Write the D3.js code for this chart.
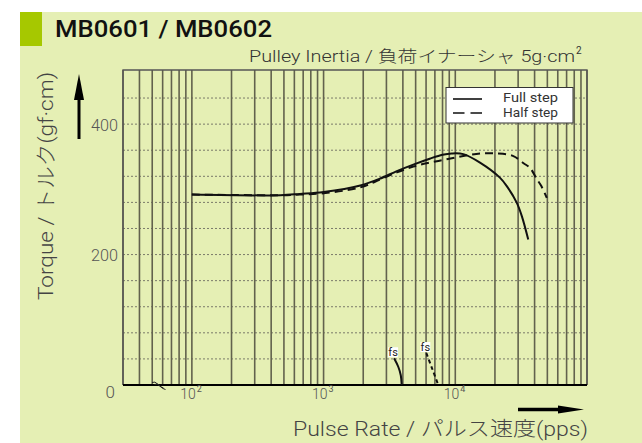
<!DOCTYPE html>
<html><head><meta charset="utf-8">
<script src="https://cdn.jsdelivr.net/npm/d3@7"></script>
<style>body{margin:0;background:#fff} svg{display:block}</style>
</head><body>
<svg id="c" width="642" height="443"></svg>
<script>
// ---- data ----
const fullPps    = [100, 470, 660, 1000, 1900, 2650, 3600, 4800, 6400, 8000, 9400, 11500, 15400, 21800, 24600, 29200, 32000, 35800];
const fullTorque = [292, 291, 293, 296, 306, 316, 328, 338, 347, 353, 355, 354, 341, 318, 305, 280, 259, 223];
const halfPps    = [100, 470, 660, 1000, 1900, 2680, 3600, 4800, 6400, 8600, 11500, 15400, 20600, 27600, 33000, 36900, 41500, 45000, 49500];
const halfTorque = [292, 291, 292, 294, 303, 315, 326, 335, 341, 346, 351, 355, 355, 351, 340, 333, 316, 305, 287];
const fsFullPps    = [3430, 3690, 3855, 3920];
const fsFullTorque = [41, 28, 15, 0];
const fsHalfPps    = [6030, 6650, 7430];
const fsHalfTorque = [49, 26, 0];
const yTickValues = [0, 200, 400];
const yGridValues = [40, 80, 120, 160, 200, 240, 280, 320, 360, 400, 440];
const xTickExponents = [2, 3, 4];
const legendLabels = ["Full step", "Half step"];
const titleText = "MB0601 / MB0602";
const subtitleText = "Pulley Inertia / 負荷イナーシャ 5g·cm";
const yLabelText = "Torque / トルク(gf·cm)";
const xLabelText = "Pulse Rate / パルス速度(pps)";

// ---- layout ----
const svg = d3.select("#c");
const L = 123, R = 587, T = 70, B = 385;
const x = d3.scaleLog().domain([30, 100000]).range([L, R]);
const y = d3.scaleLinear().domain([0, 483]).range([B, T]);
const FONT = "Roboto, 'Noto Sans CJK JP', sans-serif";

svg.append("rect").attr("x", 20).attr("y", 12).attr("width", 622).attr("height", 431).attr("fill", "#e5efb4");
svg.append("rect").attr("x", 20).attr("y", 12).attr("width", 22).attr("height", 34).attr("fill", "#a6c800");

svg.append("text").attr("x", 55).attr("y", 37).attr("font-family", FONT).attr("font-weight", 500)
  .attr("font-size", 24).attr("fill", "#111").attr("textLength", 217).attr("lengthAdjust", "spacingAndGlyphs").text(titleText);
svg.append("text").attr("x", 249).attr("y", 62).attr("font-family", FONT).attr("font-size", 16).attr("font-weight", 300)
  .attr("fill", "#333").attr("textLength", 326).attr("lengthAdjust", "spacingAndGlyphs").text(subtitleText);
svg.append("text").attr("x", 576).attr("y", 54).attr("font-family", FONT).attr("font-size", 10)
  .attr("fill", "#333").text("2");

// grid
const g = svg.append("g");
g.selectAll("line.h").data(yGridValues).enter().append("line")
  .attr("x1", L).attr("x2", R).attr("y1", d => y(d)).attr("y2", d => y(d))
  .attr("stroke", "#7a7a6a").attr("stroke-width", 1).attr("stroke-dasharray", "2,2");
g.selectAll("line.v").data(x.ticks()).enter().append("line")
  .attr("x1", d => x(d)).attr("x2", d => x(d)).attr("y1", T).attr("y2", B)
  .attr("stroke", "#62624d").attr("stroke-width", 1.6);

// frame
svg.append("path").attr("d", `M${L},${B}V${T}H${R}V${B}`).attr("fill", "none").attr("stroke", "#555").attr("stroke-width", 1.3);
svg.append("line").attr("x1", L).attr("x2", R).attr("y1", B).attr("y2", B).attr("stroke", "#000").attr("stroke-width", 2);

// break symbol
svg.append("path").attr("d", "M152,382.5 q3,-1.5 5.5,1.5 t6,4 M154.5,384.5 q3,-1.5 5.5,1.5 t5.5,3.5").attr("fill", "none")
  .attr("stroke", "#222").attr("stroke-width", 1);

// curves
const line = d3.line().x(d => x(d[0])).y(d => y(d[1])).curve(d3.curveCatmullRom.alpha(0.5));
const fullData = d3.zip(fullPps, fullTorque);
const halfData = d3.zip(halfPps, halfTorque);
svg.append("path").attr("d", line(halfData)).attr("fill", "none").attr("stroke", "#111").attr("stroke-width", 2).attr("stroke-dasharray", "8,5");
svg.append("path").attr("d", line(fullData)).attr("fill", "none").attr("stroke", "#111").attr("stroke-width", 2);
svg.append("path").attr("d", line(d3.zip(fsFullPps, fsFullTorque))).attr("fill", "none").attr("stroke", "#111").attr("stroke-width", 2);
svg.append("path").attr("d", line(d3.zip(fsHalfPps, fsHalfTorque))).attr("fill", "none").attr("stroke", "#111").attr("stroke-width", 2).attr("stroke-dasharray", "4,3");

// fs labels
[[fsFullPps[0], fsFullTorque[0]], [fsHalfPps[0], fsHalfTorque[0]]].forEach(p => {
  const cx = x(p[0]) - 1, cy = y(p[1]) - 6;
  svg.append("rect").attr("x", cx - 5).attr("y", cy - 5).attr("width", 10).attr("height", 10).attr("fill", "#fff");
  svg.append("text").attr("x", cx).attr("y", cy + 3.5).attr("text-anchor", "middle").attr("font-family", FONT)
    .attr("font-size", 11).attr("fill", "#222").text("fs");
});

// y ticks
svg.selectAll("text.yt").data(yTickValues).enter().append("text")
  .attr("x", d => d === 0 ? 115 : 118).attr("y", d => d === 0 ? 398 : y(d) + 6.5)
  .attr("text-anchor", "end").attr("font-family", FONT).attr("font-size", 17).attr("font-weight", 300).attr("fill", "#555")
  .attr("textLength", d => d === 0 ? null : 27).attr("lengthAdjust", "spacingAndGlyphs")
  .text(d => d);

// x ticks
xTickExponents.forEach(e => {
  const px = x(Math.pow(10, e));
  svg.append("text").attr("x", px + 4).attr("y", 399).attr("text-anchor", "end").attr("font-family", FONT)
    .attr("font-size", 14).attr("font-weight", 300).attr("fill", "#555").text("10");
  svg.append("text").attr("x", px + 5).attr("y", 392).attr("font-family", FONT)
    .attr("font-size", 9).attr("fill", "#555").text(e);
});

// axis labels
svg.append("text").attr("transform", "translate(53,300) rotate(-90)").attr("font-family", FONT).attr("font-size", 21).attr("font-weight", 300)
  .attr("fill", "#444").attr("textLength", 228).attr("lengthAdjust", "spacingAndGlyphs").text(yLabelText);
svg.append("text").attr("x", 293).attr("y", 436).attr("font-family", FONT).attr("font-size", 20).attr("font-weight", 300)
  .attr("fill", "#444").attr("textLength", 295).attr("lengthAdjust", "spacingAndGlyphs").text(xLabelText);

// arrows
svg.append("line").attr("x1", 79).attr("x2", 79).attr("y1", 139).attr("y2", 98).attr("stroke", "#000").attr("stroke-width", 3);
svg.append("path").attr("d", "M79,74 L84,100 L74,100 Z").attr("fill", "#000");
svg.append("line").attr("x1", 518).attr("x2", 560).attr("y1", 409.5).attr("y2", 409.5).attr("stroke", "#000").attr("stroke-width", 3.3);
svg.append("path").attr("d", "M584,409.5 L558,405.5 L558,413.5 Z").attr("fill", "#000");

// legend
const lg = svg.append("g");
lg.append("rect").attr("x", 446).attr("y", 87.5).attr("width", 127).attr("height", 35.5).attr("fill", "#fff").attr("stroke", "#333").attr("stroke-width", 1);
lg.append("line").attr("x1", 453).attr("x2", 482).attr("y1", 99).attr("y2", 99).attr("stroke", "#111").attr("stroke-width", 1.6);
lg.append("line").attr("x1", 453).attr("x2", 482).attr("y1", 113).attr("y2", 113).attr("stroke", "#111").attr("stroke-width", 1.6).attr("stroke-dasharray", "11.5,6");
lg.selectAll("text").data(legendLabels).enter().append("text")
  .attr("x", 503).attr("y", (d, i) => 102 + i * 14.5).attr("font-family", FONT).attr("font-size", 13)
  .attr("fill", "#333").attr("textLength", 55).attr("lengthAdjust", "spacingAndGlyphs").text(d => d);
</script>
</body></html>
